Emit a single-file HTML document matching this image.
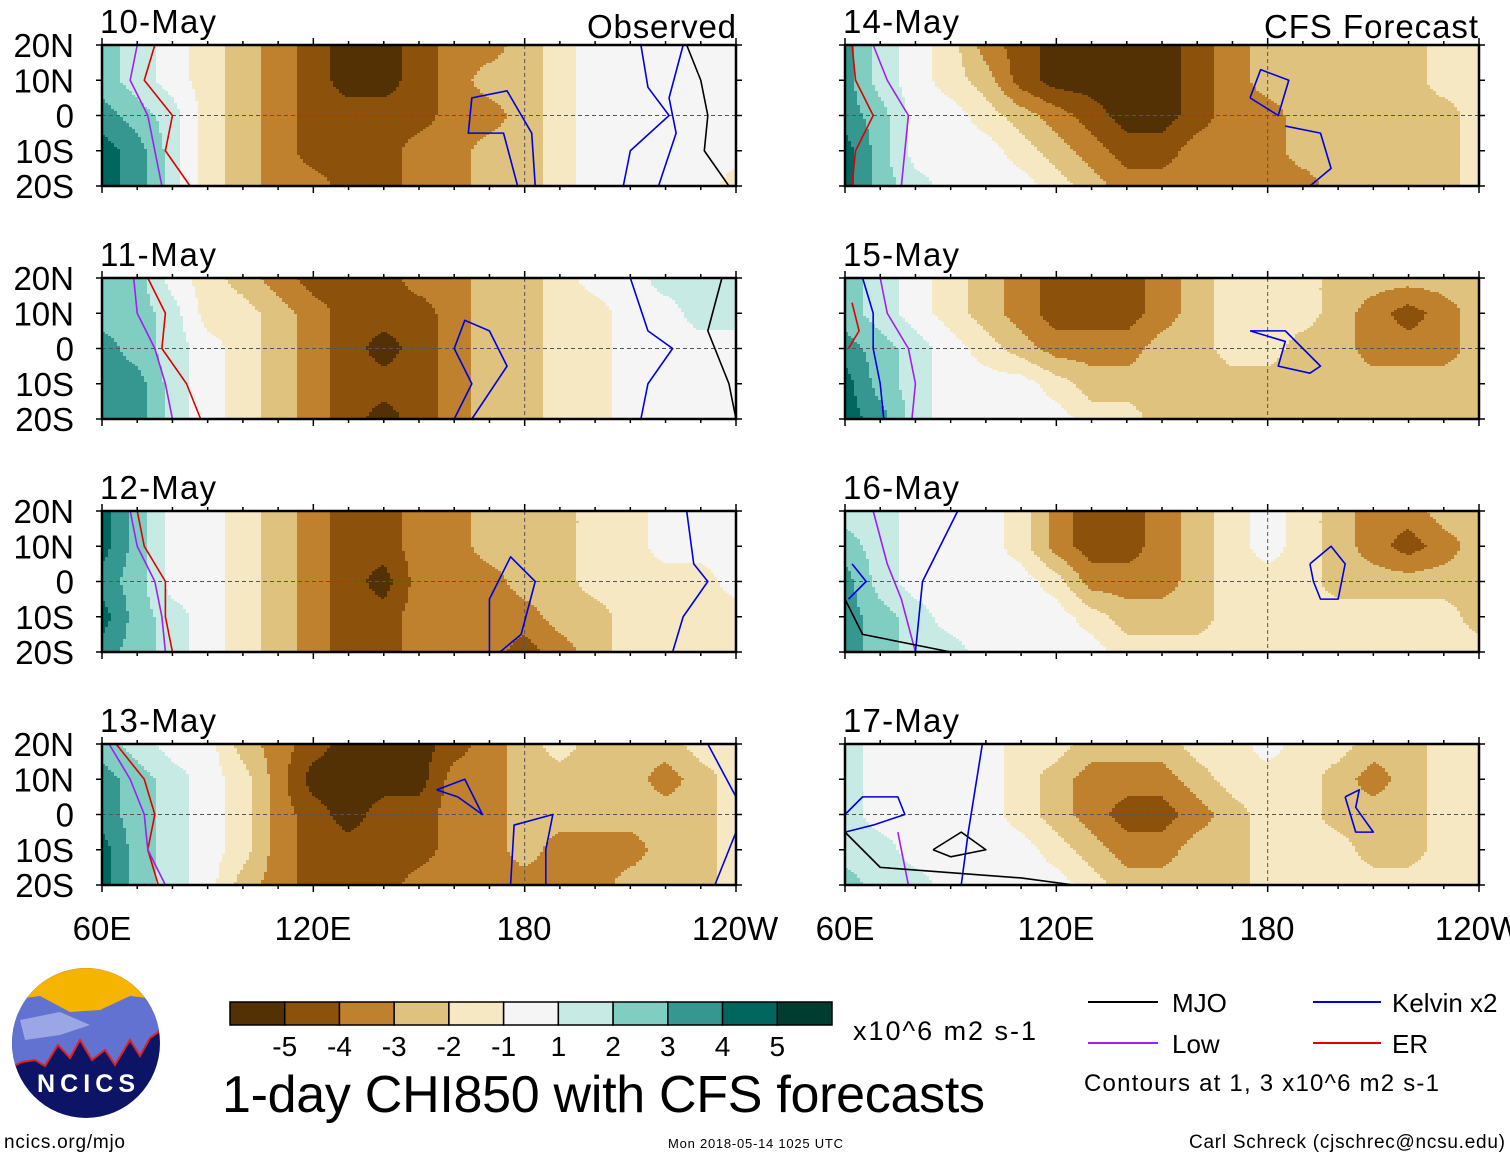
<!DOCTYPE html>
<html><head><meta charset="utf-8">
<style>
body{margin:0;background:#fff;}
svg text{font-family:"Liberation Sans",sans-serif;}
</style></head>
<body>
<svg id="root" width="1510" height="1158" viewBox="0 0 1510 1158" xmlns="http://www.w3.org/2000/svg">
<g id="panels"></g>
<g font-size="33" text-anchor="middle">
<text x="102" y="940">60E</text><text x="313" y="940">120E</text><text x="524" y="940">180</text><text x="735" y="940">120W</text>
</g>
<g font-size="33" text-anchor="middle">
<text x="845" y="940">60E</text><text x="1056" y="940">120E</text><text x="1267" y="940">180</text><text x="1478" y="940">120W</text>
</g>
<text x="587" y="38" font-size="33" textLength="149">Observed</text>
<text x="1264" y="38" font-size="33" textLength="214">CFS Forecast</text>
<g>
<defs><clipPath id="lc"><ellipse cx="86" cy="1043" rx="74" ry="75"/></clipPath></defs>
<g clip-path="url(#lc)">
<rect x="10" y="966" width="154" height="160" fill="#0d1466"/>
<rect x="10" y="966" width="154" height="50" fill="#f5b400"/>
<path d="M10,1000 L40,996 L70,1012 L100,1010 L130,996 L164,1000 L164,1028 L150,1038 L140,1056 L130,1040 L115,1065 L105,1050 L92,1060 L80,1040 L70,1058 L58,1045 L45,1066 L35,1060 L22,1062 L10,1068 Z" fill="#6272d0" stroke="none"/>
<path d="M10,1068 L22,1062 L35,1060 L45,1066 L58,1045 L70,1058 L80,1040 L92,1060 L105,1050 L115,1065 L130,1040 L140,1056 L150,1038 L164,1028" fill="none" stroke="#e02020" stroke-width="2"/>
<path d="M20,1020 L60,1012 L90,1025 L60,1035 L25,1040 Z" fill="#9aa6e6"/>
</g>
<text x="86" y="1092" font-size="25" font-weight="bold" fill="#fff" text-anchor="middle" textLength="98">NCICS</text>
</g>
<text x="4" y="1148" font-size="19" textLength="121">ncics.org/mjo</text>
<g id="cbar"></g>
<text x="853" y="1040" font-size="27" textLength="183">x10^6 m2 s-1</text>
<text x="222" y="1112" font-size="52" textLength="763">1-day CHI850 with CFS forecasts</text>
<text x="668" y="1148" font-size="13" textLength="175">Mon 2018-05-14 1025 UTC</text>
<text x="1505" y="1148" font-size="19" text-anchor="end" textLength="316">Carl Schreck (cjschrec@ncsu.edu)</text>
<g font-size="26">
<g><line x1="1088" y1="1002" x2="1158" y2="1002" stroke="#000" stroke-width="2"/><text x="1172" y="1012">MJO</text></g>
<g><line x1="1313" y1="1002" x2="1381" y2="1002" stroke="#0000e0" stroke-width="2"/><text x="1392" y="1012">Kelvin x2</text></g>
<g><line x1="1088" y1="1043" x2="1158" y2="1043" stroke="#a020f0" stroke-width="2"/><text x="1172" y="1053">Low</text></g>
<g><line x1="1313" y1="1043" x2="1381" y2="1043" stroke="#e00000" stroke-width="2"/><text x="1392" y="1053">ER</text></g>
<text x="1084" y="1091" font-size="24" textLength="355">Contours at 1, 3 x10^6 m2 s-1</text>
</g>
</svg>
<script>
const colors=["#543005","#8c510a","#bf812d","#dfc27d","#f6e8c3","#f5f5f5","#c7eae5","#80cdc1","#35978f","#01665e","#003c30"];
const cbarLabels=["-5","-4","-3","-2","-1","1","2","3","4","5"];
const dates=["10-May","11-May","12-May","13-May","14-May","15-May","16-May","17-May"];
const lons=[60,70,80,90,100,110,120,130,140,150,160,170,180,190,200,210,220,230,240];
const lats=[20,10,0,-10,-20];
const field0=[
[2,1,0,-1,-2,-3,-4,-5,-5,-4,-3,-3,-2,-1,0,0,0,0,0],
[2,1,0,-1,-2,-3,-4,-5,-5,-4,-3,-2,-2,-1,0,0,0,0,0],
[3,2,1,-1,-2,-3,-4,-4,-4,-4,-3,-3,-2,-1,0,0,0,0,0],
[4,3,1,-1,-2,-3,-4,-4,-4,-3,-3,-2,-2,-1,0,0,0,0,0],
[4,3,1,-1,-2,-3,-3,-4,-4,-3,-3,-2,-2,-1,0,0,0,0,-1]];
const field1=[
[2,2,0,-1,-2,-3,-4,-4,-4,-3,-3,-2,-2,-1,0,0,1,1,1],
[2,2,1,-1,-1,-2,-3,-4,-4,-4,-3,-2,-2,-1,-1,0,0,1,1],
[3,2,1,0,-1,-2,-3,-4,-5,-4,-3,-2,-2,-1,-1,0,0,0,0],
[3,3,1,0,-1,-2,-3,-4,-4,-4,-3,-2,-2,-1,-1,0,0,0,0],
[3,3,1,0,-1,-2,-3,-4,-5,-4,-3,-2,-2,-1,-1,0,0,0,0]];
const field2=[
[4,2,0,0,-1,-2,-3,-4,-4,-3,-3,-2,-2,-2,-1,-1,0,0,0],
[4,2,0,0,-1,-2,-3,-4,-4,-3,-3,-2,-2,-2,-1,-1,0,0,0],
[3,2,0,0,-1,-2,-3,-4,-5,-3,-3,-3,-2,-2,-1,-1,-1,-1,0],
[4,2,1,0,-1,-2,-3,-4,-4,-3,-3,-3,-3,-2,-2,-1,-1,-1,-1],
[3,2,1,0,-1,-2,-3,-4,-4,-3,-3,-3,-4,-3,-2,-1,-1,-1,-1]];
const field3=[
[2,1,0,0,-2,-3,-4,-5,-5,-5,-4,-3,-2,-1,-2,-2,-2,-1,-1],
[3,2,1,0,-1,-3,-5,-5,-5,-5,-3,-3,-2,-2,-2,-2,-3,-2,-1],
[3,2,1,0,-1,-3,-4,-5,-4,-4,-3,-3,-2,-2,-2,-2,-2,-2,-1],
[4,2,1,0,-1,-3,-4,-4,-4,-4,-3,-3,-2,-3,-3,-3,-2,-2,-1],
[4,2,1,0,-2,-3,-4,-4,-4,-3,-3,-3,-3,-3,-3,-2,-2,-2,-1]];
const field4=[
[3,1,0,-1,-3,-4,-5,-5,-5,-5,-4,-3,-2,-2,-2,-2,-2,-1,-1],
[3,1,0,-1,-2,-4,-5,-5,-5,-5,-4,-3,-2,-2,-2,-2,-2,-1,-1],
[3,2,0,0,-1,-2,-3,-4,-5,-5,-4,-3,-3,-2,-2,-2,-2,-2,-1],
[4,2,0,0,0,-1,-2,-3,-4,-4,-3,-3,-3,-2,-2,-2,-2,-2,-1],
[4,2,1,0,0,0,-1,-2,-3,-3,-3,-3,-3,-3,-2,-2,-2,-2,-1]];
const field5=[
[2,1,0,-1,-2,-3,-4,-4,-4,-3,-2,-1,-1,-1,-2,-2,-2,-2,-2],
[2,1,0,-1,-2,-3,-4,-4,-4,-3,-2,-1,-1,-1,-2,-3,-4,-3,-2],
[3,2,1,0,-1,-2,-3,-3,-3,-2,-2,-1,-1,-2,-2,-3,-3,-3,-2],
[4,2,1,0,0,0,-1,-2,-2,-2,-2,-2,-2,-2,-2,-2,-2,-2,-2],
[4,3,1,0,0,0,0,-1,-1,-2,-2,-2,-2,-2,-2,-2,-2,-2,-2]];
const field6=[
[1,1,0,0,0,-1,-3,-4,-4,-3,-2,-1,0,-1,-2,-3,-3,-2,-2],
[2,1,0,0,0,-1,-3,-4,-4,-3,-2,-1,0,-1,-2,-3,-4,-3,-2],
[3,1,0,0,0,0,-1,-3,-3,-3,-2,-1,-1,-1,-2,-2,-2,-2,-2],
[3,2,1,0,0,0,0,-1,-2,-2,-2,-1,-1,-1,-1,-1,-1,-1,-2],
[3,2,1,1,0,0,0,0,-1,-1,-1,-1,-1,-1,-1,-1,-1,-1,-1]];
const field7=[
[1,0,0,0,0,-1,-1,-2,-2,-2,-1,-1,0,-1,-1,-2,-2,-1,-1],
[1,0,0,0,0,-1,-2,-3,-3,-3,-2,-1,-1,-1,-2,-3,-2,-1,-1],
[1,0,0,0,0,-1,-2,-3,-4,-4,-3,-2,-1,-1,-2,-2,-2,-1,-1],
[1,1,0,0,0,0,-1,-2,-3,-3,-2,-2,-1,-1,-1,-2,-2,-1,-1],
[2,1,1,0,0,0,0,-1,-2,-2,-2,-2,-1,-1,-1,-1,-1,-1,-1]];
const fields=[field0,field1,field2,field3,field4,field5,field6,field7];
const lines0=[["#e00000",[[75,20],[72,10],[80,0],[78,-10],[85,-20]]],["#a020f0",[[70,20],[68,10],[73,0],[75,-10],[77,-20]]],["#0000e0",[[178,-20],[174,-5],[164,-5],[165,5],[175,7],[182,-5],[183,-20]]],["#0000e0",[[213,20],[215,8],[221,0],[210,-10],[208,-20]]],["#0000e0",[[225,20],[221,5],[223,-5],[218,-20]]],["#000",[[226,20],[230,10],[232,0],[231,-10],[238,-20]]]];
const lines1=[["#e00000",[[73,20],[78,10],[77,0],[84,-10],[88,-20]]],["#a020f0",[[69,20],[70,10],[75,0],[78,-10],[80,-20]]],["#0000e0",[[160,-20],[165,-10],[160,0],[163,8],[170,5],[175,-5],[165,-20]]],["#0000e0",[[210,20],[215,5],[222,0],[215,-10],[213,-20]]],["#000",[[236,20],[232,5],[238,-10],[240,-20]]]];
const lines2=[["#e00000",[[70,20],[72,10],[78,0],[78,-10],[80,-20]]],["#a020f0",[[68,20],[70,10],[75,0],[77,-10],[78,-20]]],["#0000e0",[[170,-20],[170,-5],[176,7],[183,0],[179,-15],[173,-20]]],["#0000e0",[[226,20],[228,5],[232,0],[225,-10],[222,-20]]]];
const lines3=[["#e00000",[[64,20],[72,10],[75,0],[73,-10],[76,-20]]],["#a020f0",[[62,20],[68,10],[72,0],[73,-10],[78,-20]]],["#0000e0",[[155,7],[163,10],[168,0],[161,5],[155,7]]],["#0000e0",[[176,-20],[177,-3],[188,0],[186,-10],[186,-20]]],["#0000e0",[[232,20],[240,5]]],["#0000e0",[[234,-20],[240,-5]]]];
const lines4=[["#e00000",[[62,20],[63,10],[68,0],[63,-10],[62,-20]]],["#a020f0",[[68,20],[72,10],[78,0],[77,-10],[76,-20]]],["#0000e0",[[175,5],[178,13],[186,10],[183,0],[175,5]]],["#0000e0",[[185,-3],[195,-5],[198,-15],[192,-20]]]];
const lines5=[["#e00000",[[62,13],[64,5],[61,0]]],["#a020f0",[[70,20],[72,10],[78,0],[80,-10],[79,-20]]],["#0000e0",[[65,20],[68,10],[68,0],[70,-10],[71,-20]]],["#0000e0",[[175,5],[185,2],[183,-5],[192,-7],[195,-5],[185,5],[175,5]]]];
const lines6=[["#a020f0",[[68,20],[72,5],[76,-5],[80,-20]]],["#0000e0",[[92,20],[82,0],[80,-20]]],["#0000e0",[[61,-5],[66,0],[62,5]]],["#0000e0",[[192,5],[198,10],[202,5],[200,-5],[195,-5],[193,0],[192,5]]],["#000",[[60,-5],[65,-15],[90,-20]]]];
const lines7=[["#0000e0",[[60,-5],[68,-3],[77,0],[75,5],[65,5],[60,0]]],["#a020f0",[[75,-5],[78,-20]]],["#000",[[85,-10],[93,-5],[100,-10],[90,-12],[85,-10]]],["#0000e0",[[99,20],[95,-5],[93,-20]]],["#000",[[60,-5],[70,-15],[110,-18],[125,-20]]],["#0000e0",[[202,5],[206,7],[205,2],[210,-5],[205,-5],[202,5]]]];
const lines=[lines0,lines1,lines2,lines3,lines4,lines5,lines6,lines7];

const NS="http://www.w3.org/2000/svg";
const px0=[102,845], pw=634, py0=[45,278,511,744], ph=141;
function mk(t,a,p){const e=document.createElementNS(NS,t);for(const k in a)e.setAttribute(k,a[k]);p.appendChild(e);return e;}
const panelsG=document.getElementById('panels');
for(let pi=0;pi<8;pi++){
  const col=pi<4?0:1,row=pi%4,X=px0[col],Y=py0[row];
  const xs=lon=>X+(lon-60)/180*pw, ys=lat=>Y+(20-lat)/40*ph;
  const g=mk('g',{},panelsG);
  
  
  const F=fields[pi];
  const cw=3,chh=2;
  const fg=mk('g',{},g);
  
  
  for(let yy=0;yy<ph;yy+=chh){
    const lat=20-(yy+chh/2)/ph*40;
    const fi=Math.min(3.999,Math.max(0,(20-lat)/10));const i0=Math.floor(fi),ty=fi-i0;
    let runStart=0,runC=-1;
    const flush=(end)=>{if(runC>=0){const r=mk('rect',{x:X+runStart,y:Y+yy,width:end-runStart+0.6,height:Math.min(chh,ph-yy)+0.6,fill:colors[runC]},fg);}};
    for(let xx=0;xx<pw;xx+=cw){
      const lon=60+(xx+cw/2)/pw*180;
      const fj=Math.min(17.999,Math.max(0,(lon-60)/10));const j0=Math.floor(fj),tx=fj-j0;
      const v=(F[i0][j0]*(1-tx)+F[i0][j0+1]*tx)*(1-ty)+(F[i0+1][j0]*(1-tx)+F[i0+1][j0+1]*tx)*ty;
      const c=Math.max(0,Math.min(10,Math.round(v)+5));
      if(c!==runC){flush(xx);runStart=xx;runC=c;}
    }
    flush(pw);
  }
  const eq=mk('line',{x1:X,x2:X+pw,y1:ys(0),y2:ys(0),stroke:'#555','stroke-width':1,'stroke-dasharray':'4,3'},g);
  
  const dl=mk('line',{x1:xs(180),x2:xs(180),y1:Y,y2:Y+ph,stroke:'#555','stroke-width':1,'stroke-dasharray':'4,3'},g);
  
  for(const [c,pts] of lines[pi]){
    const pl=mk('polyline',{points:pts.map(p=>xs(p[0])+','+ys(p[1])).join(' '),fill:'none',stroke:c,'stroke-width':1.6,'stroke-linejoin':'round'},g);
    
  }
  const fr=mk('rect',{x:X,y:Y,width:pw,height:ph,fill:'none',stroke:'#000','stroke-width':2.5},g);
  
  for(let l=60;l<=240;l+=10){const len=(l%60===0)?7:4;
    mk('line',{x1:xs(l),x2:xs(l),y1:Y,y2:Y-len,stroke:'#000','stroke-width':1.5},g);
    mk('line',{x1:xs(l),x2:xs(l),y1:Y+ph,y2:Y+ph+len,stroke:'#000','stroke-width':1.5},g);}
  for(const la of lats){mk('line',{x1:X-6,x2:X,y1:ys(la),y2:ys(la),stroke:'#000','stroke-width':1.5},g);mk('line',{x1:X+pw,x2:X+pw+6,y1:ys(la),y2:ys(la),stroke:'#000','stroke-width':1.5},g);}
  const dt=mk('text',{x:X-2,y:Y-12,'font-size':33,textLength:116},g);dt.textContent=dates[pi];
  
  if(col===0){
    const latLab=["20N","10N","0","10S","20S"];
    latLab.forEach((t,k)=>{const tt=mk('text',{x:74,y:ys(lats[k])+12,'font-size':33,'text-anchor':'end'},g);tt.textContent=t;
      });
  }
}
const cb=document.getElementById('cbar');
const bw=602/11;
colors.forEach((c,i)=>{const r=mk('rect',{x:230+i*bw,y:1002,width:bw,height:23,fill:c,stroke:'#000','stroke-width':1.5},cb);
  });
cbarLabels.forEach((t,i)=>{const tt=mk('text',{x:230+(i+1)*bw,y:1056,'font-size':28,'text-anchor':'middle'},cb);tt.textContent=t;
  });
</script>
</body></html>
